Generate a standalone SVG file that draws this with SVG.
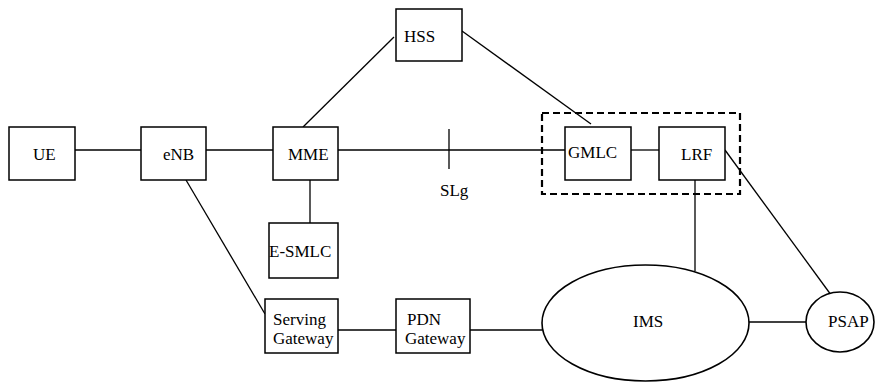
<svg xmlns="http://www.w3.org/2000/svg" width="875" height="383" viewBox="0 0 875 383">
<style>
.box{fill:#fff;stroke:#000;stroke-width:1.5}
.ell{fill:#fff;stroke:#000;stroke-width:1.6}
.ln{stroke:#000;stroke-width:1.3;fill:none}
.t{font-family:"Liberation Serif","Times New Roman",serif;font-size:17px;fill:#000}
.grp{fill:none;stroke:#000;stroke-width:2.2;stroke-dasharray:7 4}
</style>
<rect width="875" height="383" fill="#fff"/>
<g id="connectors">
<line class="ln" x1="75" y1="150" x2="141" y2="150"/>
<line class="ln" x1="206" y1="150" x2="273" y2="150"/>
<line class="ln" x1="338" y1="150" x2="565" y2="150"/>
<line class="ln" x1="449" y1="129" x2="449" y2="169"/>
<line class="ln" x1="631" y1="150" x2="659" y2="150"/>
<line class="ln" x1="303" y1="127" x2="394" y2="37"/>
<line class="ln" x1="462" y1="31" x2="591" y2="124"/>
<line class="ln" x1="310" y1="180" x2="310" y2="223"/>
<line class="ln" x1="186" y1="180" x2="265" y2="314"/>
<line class="ln" x1="338" y1="330" x2="396" y2="330"/>
<line class="ln" x1="470" y1="330" x2="542" y2="330"/>
<line class="ln" x1="695" y1="180" x2="695" y2="271"/>
<line class="ln" x1="725" y1="150" x2="834" y2="299"/>
<line class="ln" x1="749" y1="322" x2="806" y2="322"/>
<text class="t" x="440" y="196">SLg</text>
</g>
<g id="group-box"><rect class="grp" x="542" y="113" width="198" height="81"/></g>
<g id="UE"><rect class="box" x="9" y="127" width="66" height="53"/><text class="t" x="33" y="160">UE</text></g>
<g id="eNB"><rect class="box" x="141" y="127" width="65" height="53"/><text class="t" x="163" y="160">eNB</text></g>
<g id="MME"><rect class="box" x="273" y="127" width="65" height="53"/><text class="t" x="288" y="160">MME</text></g>
<g id="HSS"><rect class="box" x="396" y="9" width="66" height="52"/><text class="t" x="404" y="42">HSS</text></g>
<g id="GMLC"><rect class="box" x="565" y="127" width="66" height="53"/><text class="t" x="568" y="158">GMLC</text></g>
<g id="LRF"><rect class="box" x="659" y="127" width="66" height="53"/><text class="t" x="681" y="160">LRF</text></g>
<g id="E-SMLC"><rect class="box" x="269" y="223" width="69" height="55"/><text class="t" x="269" y="257">E-SMLC</text></g>
<g id="ServingGateway"><rect class="box" x="265" y="299" width="73" height="54"/><text class="t" x="273" y="325">Serving</text><text class="t" x="273" y="344">Gateway</text></g>
<g id="PDNGateway"><rect class="box" x="396" y="299" width="74" height="54"/><text class="t" x="407" y="325">PDN</text><text class="t" x="405" y="344">Gateway</text></g>
<g id="IMS"><ellipse class="ell" cx="645.5" cy="323" rx="103.5" ry="58"/><text class="t" x="633" y="327">IMS</text></g>
<g id="PSAP"><ellipse class="ell" cx="840" cy="322" rx="34" ry="30"/><text class="t" x="828" y="327">PSAP</text></g>
</svg>
